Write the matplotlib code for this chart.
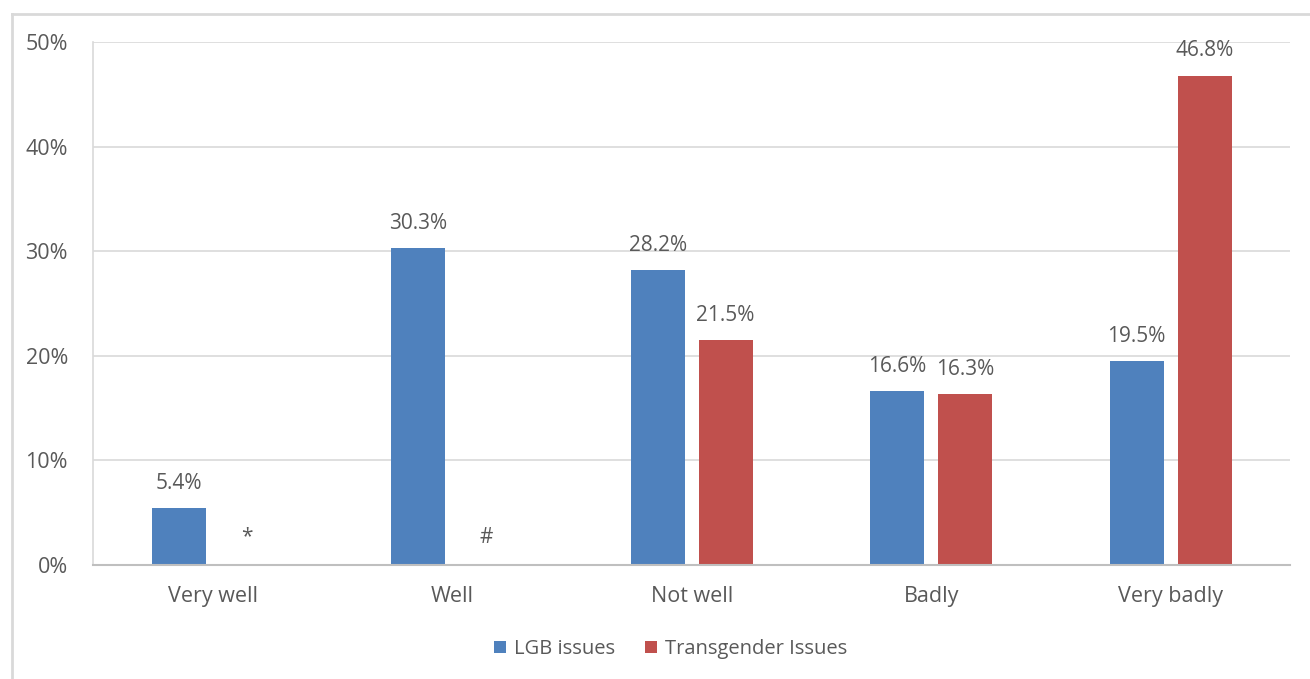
import numpy as np
import matplotlib
matplotlib.use('Agg')
import matplotlib.pyplot as plt
from matplotlib.lines import Line2D

categories = ['Very well', 'Well', 'Not well', 'Badly', 'Very badly']
lgb_values = [5.4, 30.3, 28.2, 16.6, 19.5]
trans_values = [0.0, 0.0, 21.5, 16.3, 46.8]
trans_labels = ['*', '#', '21.5%', '16.3%', '46.8%']
lgb_labels = [f'{v:.1f}%' for v in lgb_values]
yticks = [0, 10, 20, 30, 40, 50]

blue = '#4F81BD'
red = '#C0504D'
text_col = '#595959'
grid_col = '#D9D9D9'

plt.rcParams['font.family'] = ['Open Sans', 'DejaVu Sans']

fig = plt.figure(figsize=(13.1, 6.79), dpi=100)
ax = fig.add_axes([0.071, 0.168, 0.914, 0.770])

x = np.arange(len(categories))
width = 0.225
offset = 0.142

ax.bar(x - offset, lgb_values, width, color=blue, label='LGB issues', zorder=3)
ax.bar(x + offset, trans_values, width, color=red, label='Transgender Issues', zorder=3)

for xi, v, lab in zip(x - offset, lgb_values, lgb_labels):
    ax.annotate(lab, (xi, v), xytext=(0, 18), textcoords='offset points',
                ha='center', va='center', fontsize=15, color=text_col)
for xi, v, lab in zip(x + offset, trans_values, trans_labels):
    ax.annotate(lab, (xi, v), xytext=(0, 20 if lab in ('*', '#') else 18),
                textcoords='offset points',
                ha='center', va='center', fontsize=15, color=text_col)

ax.set_xlim(-0.5, len(categories) - 0.5)
ax.set_ylim(0, 50)
ax.set_yticks(yticks)
ax.set_yticklabels([f'{t}%' for t in yticks])
ax.set_xticks(x)
ax.set_xticklabels(categories)
ax.tick_params(axis='both', length=0, labelsize=15.5, colors=text_col)
ax.tick_params(axis='y', pad=18)
ax.tick_params(axis='x', pad=15)

ax.yaxis.grid(True, color=grid_col, linewidth=1.2, zorder=0)
for side in ['top', 'right']:
    ax.spines[side].set_visible(False)
ax.spines['left'].set_color(grid_col)
ax.spines['left'].set_linewidth(1.2)
ax.spines['bottom'].set_color('#BFBFBF')
ax.spines['bottom'].set_linewidth(1.5)
ax.spines['bottom'].set_zorder(4)

fig.legend(loc='center', bbox_to_anchor=(0.512, 0.044), ncol=2, frameon=False,
           fontsize=14.5, labelcolor=text_col, handlelength=0.6, handleheight=0.6,
           handletextpad=0.4, columnspacing=1.5)

# chart border (only left and top are visible in the crop)
bx = 11.5 / 1310
by = 1 - 13.5 / 679
fig.add_artist(Line2D([bx, bx], [0, by], transform=fig.transFigure, color=grid_col, linewidth=2))
fig.add_artist(Line2D([bx, 1], [by, by], transform=fig.transFigure, color=grid_col, linewidth=2))

fig.savefig('out.png', dpi=100)
